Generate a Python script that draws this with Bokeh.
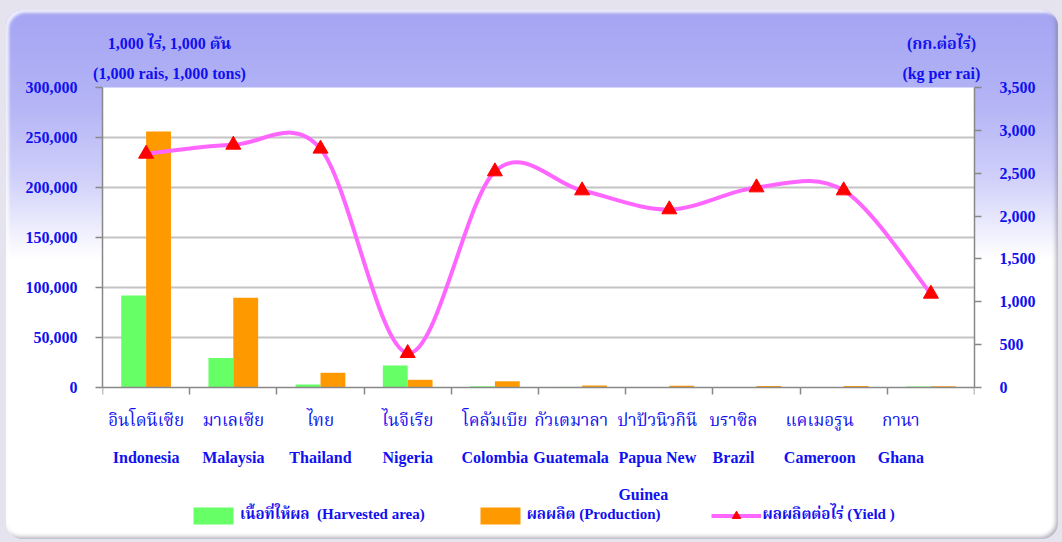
import numpy as np
from bokeh.plotting import figure
from bokeh.models import (ColumnDataSource, Range1d, LinearAxis, FixedTicker,
                          NumeralTickFormatter, Legend, LegendItem, LabelSet,
                          GlobalInlineStyleSheet)
from bokeh.transform import dodge
from bokeh.core.properties import value
from bokeh.embed import file_html
from bokeh.resources import INLINE

# ---------------- data ----------------
countries = ["Indonesia", "Malaysia", "Thailand", "Nigeria", "Colombia",
             "Guatemala", "Papua New Guinea", "Brazil", "Cameroon", "Ghana"]
names_th = ["อินโดนีเซีย", "มาเลเซีย", "ไทย", "ไนจีเรีย", "โคลัมเบีย",
            "กัวเตมาลา", "ปาปัวนิวกินี", "บราซิล", "แคเมอรูน", "กานา"]
names_en = ["Indonesia", "Malaysia", "Thailand", "Nigeria", "Colombia",
            "Guatemala", "Papua New\nGuinea", "Brazil", "Cameroon", "Ghana"]
harvested_area = [92000, 29500, 3000, 22000, 1200, 600, 500, 400, 400, 1100]   # 1,000 rai
production = [256000, 89700, 14700, 7700, 6200, 2000, 1800, 1500, 1500, 1300]  # 1,000 tons
yield_kg = [2726, 2831, 2785, 400, 2520, 2298, 2077, 2333, 2298, 1093]          # kg per rai
left_ticks = [0, 50000, 100000, 150000, 200000, 250000, 300000]
right_ticks = [0, 500, 1000, 1500, 2000, 2500, 3000, 3500]
LEFT_MAX, RIGHT_MAX = 300000, 3500

title_left_th = "1,000 ไร่,  1,000 ตัน"
title_left_en = "(1,000 rais,  1,000 tons)"
title_right_th = "(กก.ต่อไร่)"
title_right_en = "(kg per rai)"
legend_labels = ["เนื้อที่ให้ผล  (Harvested area)", "ผลผลิต (Production)", "ผลผลิตต่อไร่ (Yield )"]

# ---------------- style / layout ----------------
BLUE = "#1010f0"
GREEN = "#66ff66"
ORANGE = "#ff9900"
PINK = "#ff66ff"
GREY = "#888888"
FONT = "Liberation Serif, Noto Serif Thai, Noto Sans Thai, serif"
label_dx = [0, 0, 0, 0, 0, -11, -12, -23, -24, -30]   # category label shifts (px) as in reference
title_px = [69, 839]                                  # caption centres (px from plot-area left)

W, H = 1052, 529
ML, MR, MT, MB = 96, 84, 77, 12
FW, FH = W - ML - MR, H - MT - MB
PLOT_H = 300                    # height (px) of the value area; below it: labels + legend
N = len(countries)
sx = FW / N
sy = PLOT_H / RIGHT_MAX
below_px = FH - PLOT_H

p = figure(width=W, height=H, x_range=Range1d(0, N),
           y_range=Range1d(-LEFT_MAX * below_px / PLOT_H, LEFT_MAX),
           output_backend="svg", toolbar_location=None,
           min_border_left=ML, min_border_right=MR, min_border_top=MT, min_border_bottom=MB)
p.margin = (10, 0, 0, 6)
p.extra_y_ranges = {"yield": Range1d(-RIGHT_MAX * below_px / PLOT_H, RIGHT_MAX)}

p.border_fill_color = None
p.background_fill_color = "white"
p.outline_line_color = None
p.styles = {
    "background": "linear-gradient(to bottom, #a4a4f3 0%, #b4b4f6 18%, #d0d0fa 32%, #ffffff 47%, #ffffff 100%)",
    "border-radius": "16px",
    "box-shadow": "inset 3px 3px 3px rgba(255,255,255,0.8), inset -2px -2px 4px rgba(120,120,140,0.6)",
}
p.stylesheets = [GlobalInlineStyleSheet(css="body { background: #e5e3ee; }")]

# category slot centres on the numeric x scale (slot i spans i..i+1)
pos = np.arange(N) + 0.5
src = ColumnDataSource(dict(pos=pos, cat=countries, th=names_th, en=names_en, dx=label_dx,
                            area=harvested_area, prod=production, yld=yield_kg))

g_area = p.vbar(x=dodge("pos", -0.1425), top="area", width=0.285,
                source=src, fill_color=GREEN, line_color=None)
g_prod = p.vbar(x=dodge("pos", 0.1425), top="prod", width=0.285,
                source=src, fill_color=ORANGE, line_color=None)

# smoothed yield line (Excel-style Bezier through the data points)
P = np.column_stack([pos * sx, np.array(yield_kg, dtype=float) * sy])
seg = dict(x0=[], y0=[], x1=[], y1=[], cx0=[], cy0=[], cx1=[], cy1=[])
for i in range(N - 1):
    P0 = P[i - 1] if i > 0 else P[i]
    P1, P2 = P[i], P[i + 1]
    P3 = P[i + 2] if i + 2 < N else P[i + 1]
    d12 = np.linalg.norm(P2 - P1)
    d02 = np.linalg.norm(P2 - P0)
    d13 = np.linalg.norm(P3 - P1)
    f1 = 1 / 6 if (d02 / 6 < d12 / 2 or d02 == 0) else d12 / (2 * d02)
    f2 = 1 / 6 if (d13 / 6 < d12 / 2 or d13 == 0) else d12 / (2 * d13)
    C1 = P1 + f1 * (P2 - P0)
    C2 = P2 - f2 * (P3 - P1)
    seg["x0"].append(P1[0] / sx); seg["y0"].append(P1[1] / sy)
    seg["x1"].append(P2[0] / sx); seg["y1"].append(P2[1] / sy)
    seg["cx0"].append(C1[0] / sx); seg["cy0"].append(C1[1] / sy)
    seg["cx1"].append(C2[0] / sx); seg["cy1"].append(C2[1] / sy)

curve = p.bezier(x0="x0", y0="y0", x1="x1", y1="y1", cx0="cx0", cy0="cy0", cx1="cx1", cy1="cy1",
                 source=ColumnDataSource(seg), y_range_name="yield", line_color=PINK, line_width=4)
marks = p.scatter(x="pos", y="yld", source=src, y_range_name="yield", marker="triangle",
                  size=15, fill_color="red", line_color="red")

# ---------------- axes ----------------
p.xgrid.visible = False
p.ygrid.grid_line_color = "#c4c4c4"
p.ygrid.grid_line_width = 2
p.ygrid.ticker = FixedTicker(ticks=left_ticks[1:])

def style_axis(ax, size="16px"):
    ax.axis_line_color = GREY
    ax.axis_line_width = 1.5
    ax.major_tick_line_color = GREY
    ax.major_tick_line_width = 1.5
    ax.major_tick_out = 7
    ax.major_tick_in = 0
    ax.minor_tick_line_color = None
    ax.major_label_text_font = FONT
    ax.major_label_text_font_style = "bold"
    ax.major_label_text_font_size = size
    ax.major_label_text_color = BLUE
    ax.major_label_standoff = 18

def text_only(ax):
    ax.axis_line_color = None
    ax.major_tick_line_color = None
    ax.major_tick_out = 0
    ax.minor_tick_line_color = None
    ax.minor_tick_out = 0

ly = p.yaxis[0]
ly.ticker = FixedTicker(ticks=left_ticks)
ly.formatter = NumeralTickFormatter(format="0,0")
ly.bounds = (0, LEFT_MAX)
style_axis(ly)

ry = LinearAxis(y_range_name="yield", ticker=FixedTicker(ticks=right_ticks),
                formatter=NumeralTickFormatter(format="0,0"), bounds=(0, RIGHT_MAX))
style_axis(ry)
p.add_layout(ry, "right")

# category axis line at value 0 with tick marks on the slot boundaries
bx = p.xaxis[0]
bx.ticker = FixedTicker(ticks=list(range(N + 1)))
style_axis(bx, size="0px")
bx.major_label_standoff = 0
bx.major_label_text_alpha = 0
bx.fixed_location = 0

# category names (Thai row, English row)
p.add_layout(LabelSet(x="pos", y=below_px - 33, y_units="screen", text="th", x_offset="dx",
                      source=src, text_align="center", text_baseline="middle",
                      text_font=value(FONT), text_font_size="17px", text_color=BLUE))
p.add_layout(LabelSet(x="pos", y=below_px - 61, y_units="screen", text="en", x_offset="dx",
                      source=src, text_align="center", text_baseline="top",
                      text_font=value(FONT), text_font_size="16px", text_font_style="bold",
                      text_color=BLUE, text_line_height=2.2))

# top: unit captions
cap_ticks = [float(v / sx) for v in title_px]
ta = LinearAxis(ticker=FixedTicker(ticks=cap_ticks))
style_axis(ta)
text_only(ta)
ta.major_label_standoff = 6
ta.major_label_overrides = {cap_ticks[0]: title_left_en, cap_ticks[1]: title_right_en}
p.add_layout(ta, "above")

tb = LinearAxis(ticker=FixedTicker(ticks=cap_ticks))
style_axis(tb)
text_only(tb)
tb.major_label_standoff = 10
tb.major_label_overrides = {cap_ticks[0]: title_left_th, cap_ticks[1]: title_right_th}
p.add_layout(tb, "above")

legend = Legend(items=[LegendItem(label=legend_labels[0], renderers=[g_area]),
                       LegendItem(label=legend_labels[1], renderers=[g_prod]),
                       LegendItem(label=legend_labels[2], renderers=[curve, marks])],
                orientation="horizontal", location=(86, 0),
                glyph_width=50, glyph_height=21, label_height=17, label_standoff=2, spacing=50,
                padding=0, margin=0, border_line_color=None, background_fill_alpha=0,
                label_text_font=FONT, label_text_font_style="bold",
                label_text_font_size="15px", label_text_color=BLUE)
p.add_layout(legend)

open("out.html", "w").write(file_html(p, INLINE))
